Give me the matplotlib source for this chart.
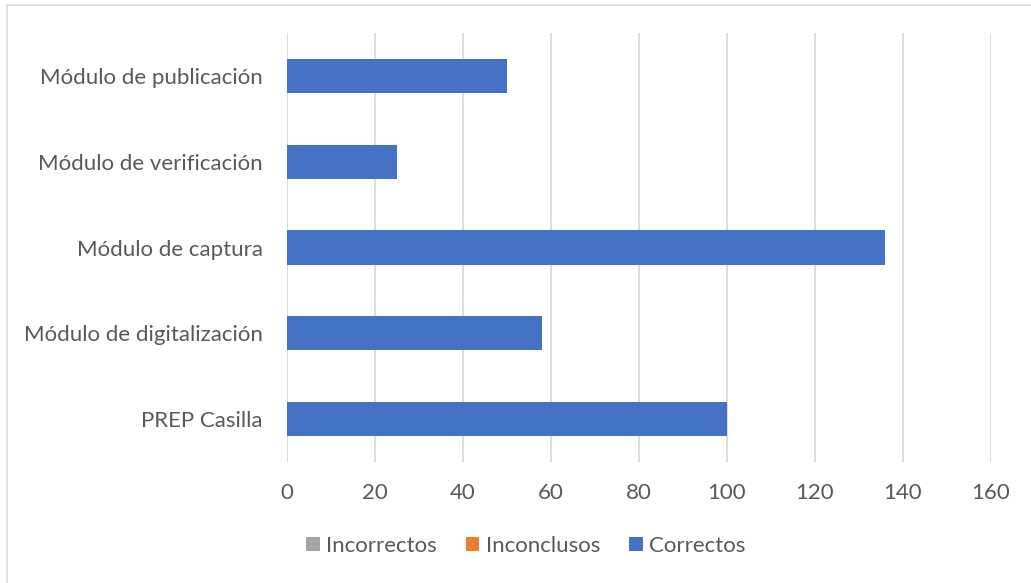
import numpy as np
import matplotlib.pyplot as plt
from matplotlib.patches import Rectangle

plt.rcParams['font.family'] = ['Lato', 'DejaVu Sans']

modules = ['PREP Casilla', 'Módulo de digitalización', 'Módulo de captura',
           'Módulo de verificación', 'Módulo de publicación']
correctos = [100, 58, 136, 25, 50]
inconclusos = [0, 0, 0, 0, 0]
incorrectos = [0, 0, 0, 0, 0]

text_color = '#595959'
grid_color = '#d9d9d9'

fig = plt.figure(figsize=(10.31, 5.83), dpi=100)
ax = fig.add_axes([287 / 1031, 1 - 462 / 583, (991 - 287) / 1031, (462 - 33) / 583])

y = np.arange(len(modules))
h = 0.4
ax.barh(y, incorrectos, h, color='#a5a5a5', label='Incorrectos', zorder=3)
ax.barh(y, inconclusos, h, left=incorrectos, color='#ed7d31', label='Inconclusos', zorder=3)
left = np.array(incorrectos) + np.array(inconclusos)
ax.barh(y, correctos, h, left=left, color='#4472c4', label='Correctos', zorder=3)

ax.set_xlim(0, 160)
ax.set_ylim(-0.5, len(modules) - 0.5)
ax.set_xticks(np.arange(0, 161, 20))
ax.set_yticks(y)
ax.set_yticklabels(modules)
ax.xaxis.grid(True, color=grid_color, linewidth=1.3, zorder=0)
ax.set_axisbelow(True)
for s in ax.spines.values():
    s.set_visible(False)
ax.tick_params(axis='both', length=0, colors=text_color, labelsize=16)
ax.tick_params(axis='x', pad=15)
ax.tick_params(axis='y', pad=17.5)

leg = fig.legend(loc='center', bbox_to_anchor=(526 / 1031, 1 - 546 / 583), ncol=3,
                 frameon=False, fontsize=16, handlelength=0.6, handleheight=0.6,
                 handletextpad=0.3, columnspacing=1.3)
for t in leg.get_texts():
    t.set_color(text_color)

# light outer frame
fig.patches.append(Rectangle((7 / 1031, -0.1), 1.2, 1 - 5 / 583 + 0.1,
                             transform=fig.transFigure, fill=False,
                             edgecolor='#d9d9d9', linewidth=1.2))

fig.savefig('out.png', dpi=100)
